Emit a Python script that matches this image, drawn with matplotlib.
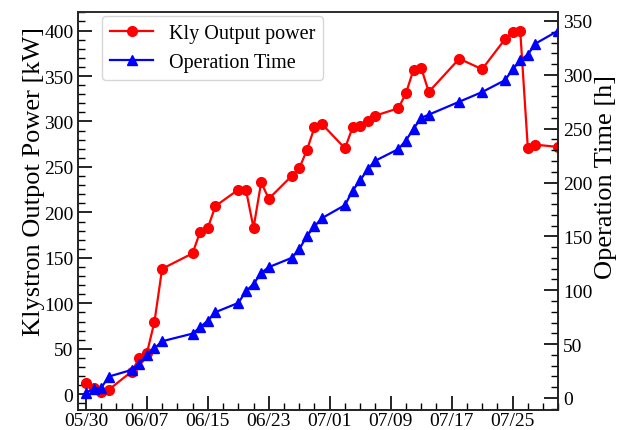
import numpy as np
import pandas as pd
import matplotlib
matplotlib.use("Agg")
import matplotlib.pyplot as plt
import matplotlib.dates as mdates
from matplotlib.ticker import MultipleLocator

plt.rcParams["font.family"] = ["Liberation Serif", "DejaVu Serif"]

# data
dates = [
    "05/30", "05/31", "06/01", "06/02", "06/05", "06/06", "06/07", "06/08", "06/09",
    "06/13", "06/14", "06/15", "06/16", "06/19", "06/20", "06/21", "06/22", "06/23",
    "06/26", "06/27", "06/28", "06/29", "06/30", "07/03", "07/04", "07/05", "07/06",
    "07/07", "07/10", "07/11", "07/12", "07/13", "07/14", "07/18", "07/21", "07/24",
    "07/25", "07/26", "07/27", "07/28", "07/31",
]
kly_power = [
    12.8, 7, 2, 5, 25, 39.6, 45, 80, 138,
    155, 179, 183, 207, 225, 225, 183, 233, 215,
    240, 248.5, 268.5, 293.5, 297, 270.5, 293.5, 294.5, 301,
    306.5, 314.5, 331, 357, 359, 332.5, 369, 357.5, 390.5,
    398.5, 400, 271, 274.5, 272,
]
op_time = [
    5, 8.4, 9.3, 19.8, 26, 31.6, 40.2, 46, 52.6,
    59.7, 65.6, 71.8, 79.6, 88.2, 99, 105.8, 116, 121.4,
    130, 138, 150.3, 159.4, 167, 179, 192.5, 202, 212.6,
    220.3, 231, 239, 250, 260, 263, 275, 284, 295,
    305, 313.5, 318.8, 329, 341,
]
tick_labels = ["05/30", "06/07", "06/15", "06/23", "07/01", "07/09", "07/17", "07/25"]

year = "2021/"
x = pd.to_datetime([year + d for d in dates], format="%Y/%m/%d")
major = pd.to_datetime([year + d for d in tick_labels], format="%Y/%m/%d")
minor = pd.date_range(year + "05/30", year + "07/31", freq="2D")

fig = plt.figure(figsize=(6.18, 4.31), dpi=100)
ax = fig.add_axes([0.1267, 0.047, 0.7767, 0.922])
ax2 = ax.twinx()

l1, = ax.plot(x, kly_power, color="#ff0000", marker="o", markersize=7,
              linewidth=1.6, label="Kly Output power")
l2, = ax2.plot(x, op_time, color="#0000ff", marker="^", markersize=7.5,
               linewidth=1.6, label="Operation Time")

ax.set_xlim(pd.Timestamp(year + "05/29"), pd.Timestamp(year + "07/31"))
ax.set_ylim(-17, 420)
ax2.set_ylim(-11, 358)

ax.set_xticks(major)
ax.set_xticks(minor, minor=True)
ax.xaxis.set_major_formatter(mdates.DateFormatter("%m/%d"))

ax.yaxis.set_major_locator(MultipleLocator(50))
ax.yaxis.set_minor_locator(MultipleLocator(10))
ax2.yaxis.set_major_locator(MultipleLocator(50))
ax2.yaxis.set_minor_locator(MultipleLocator(10))

for a in (ax, ax2):
    a.tick_params(which="major", direction="in", length=10, width=1.2,
                  labelsize=14, pad=3.5)
    a.tick_params(which="minor", direction="in", length=5, width=1.0)
    for s in a.spines.values():
        s.set_linewidth(1.2)
        s.set_color("#222222")
ax.tick_params(axis="x", which="major", pad=1.5)
ax.spines["top"].set_color("#666666")

ax.set_ylabel("Klystron Outpot Power [kW]", fontsize=19)
ax2.set_ylabel("Operation Time [h]", fontsize=19)
ax.yaxis.set_label_coords(-0.069, 0.576)
ax2.yaxis.set_label_coords(1.076, 0.589)

ax2.legend([l1, l2], ["Kly Output power", "Operation Time"], loc="upper left",
           bbox_to_anchor=(0.05, 0.99), fontsize=14.5, handlelength=2.1,
           labelspacing=0.45, borderaxespad=0)

fig.savefig("out.png", dpi=100)
